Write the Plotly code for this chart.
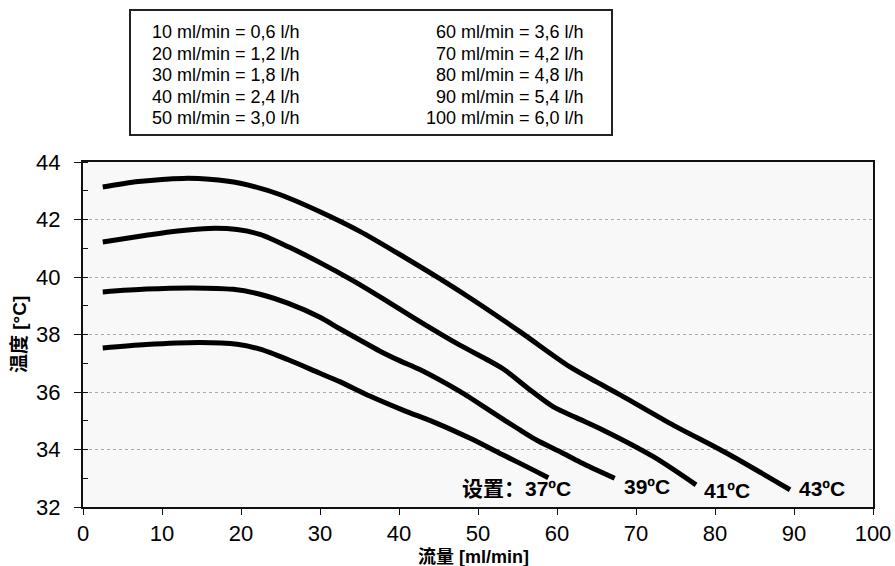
import plotly.graph_objects as go

# ---- data ----
flow_37 = [2.5, 8, 14.8, 19.5, 22.4, 26.0, 30.0, 32.5, 36.3, 40.5, 44.8, 49.0, 53.2, 57.4, 58.9]
temp_37 = [37.53, 37.65, 37.72, 37.66, 37.49, 37.12, 36.65, 36.36, 35.86, 35.37, 34.91, 34.39, 33.81,
           33.23, 33.02]

flow_39 = [2.5, 8, 13.9, 19.0, 22.4, 26.0, 30.0, 32.5, 35.1, 37.6, 40.0, 42.7, 47.7, 49.0, 53.2, 55.3,
           57.4, 60.4, 63.0, 67.3]
temp_39 = [39.48, 39.58, 39.62, 39.57, 39.40, 39.08, 38.60, 38.20, 37.80, 37.42, 37.10, 36.77, 36.02,
           35.80, 35.05, 34.68, 34.33, 33.92, 33.55, 33.0]

flow_41 = [2.5, 8, 12.0, 16.0, 19.5, 22.4, 26.0, 30.0, 34.0, 37.6, 42.7, 47.7, 51.0, 53.2, 56.6, 59.5,
           62.5, 65.8, 72.2, 77.6]
temp_41 = [41.22, 41.45, 41.6, 41.69, 41.65, 41.48, 41.05, 40.5, 39.9, 39.31, 38.44, 37.63, 37.15, 36.80,
           36.07, 35.49, 35.10, 34.68, 33.75, 32.77]

flow_43 = [2.5, 7.0, 12.7, 16.0, 19.9, 24.9, 30.0, 35.1, 40.0, 45.0, 49.0, 55.3, 61.6, 65.0, 68.0, 74.3,
           81.9, 89.5]
temp_43 = [43.13, 43.32, 43.43, 43.40, 43.26, 42.87, 42.27, 41.58, 40.80, 39.97, 39.27, 38.10, 36.88,
           36.35, 35.90, 34.91, 33.81, 32.6]

series = [(flow_37, temp_37), (flow_39, temp_39), (flow_41, temp_41), (flow_43, temp_43)]

curve_labels = ["设置：37ºC", "39ºC", "41ºC", "43ºC"]
label_x = [62.0, 68.2, 78.4, 90.4]
label_y = [32.66, 32.70, 32.56, 32.66]
label_anchor = ["right", "left", "left", "left"]

legend_left = ["10 ml/min = 0,6 l/h", "20 ml/min = 1,2 l/h", "30 ml/min = 1,8 l/h",
               "40 ml/min = 2,4 l/h", "50 ml/min = 3,0 l/h"]
legend_right = ["60 ml/min = 3,6 l/h", "70 ml/min = 4,2 l/h", "80 ml/min = 4,8 l/h",
                "90 ml/min = 5,4 l/h", "100 ml/min = 6,0 l/h"]

x_ticks = [0, 10, 20, 30, 40, 50, 60, 70, 80, 90, 100]
y_ticks = [32, 34, 36, 38, 40, 42, 44]

x_title = "流量 [ml/min]"
y_title = "温度 [°C]"

# ---- layout helpers ----
W, H = 895, 566
L, R, T, B = 83, 873, 162, 507
FONT = "Liberation Sans, Arial, Noto Sans CJK SC, sans-serif"


def px(xp):
    return (xp - L) / (R - L)


def py(yp):
    return (B - yp) / (B - T)


fig = go.Figure()
for fx, ty in series:
    fig.add_trace(go.Scatter(x=fx, y=ty, mode="lines",
                             line=dict(color="black", width=5, shape="spline", smoothing=0.8),
                             showlegend=False, hoverinfo="skip"))

annotations = []
for txt, xv, yv, anc in zip(curve_labels, label_x, label_y, label_anchor):
    annotations.append(dict(x=xv, y=yv, xref="x", yref="y", text="<b>%s</b>" % txt,
                            showarrow=False, xanchor=anc, yanchor="middle",
                            font=dict(family=FONT, size=21, color="black")))

line_ys = [32, 53.6, 75.2, 96.8, 118.4]
for txt, yp in zip(legend_left, line_ys):
    annotations.append(dict(x=px(150), y=py(yp), xref="paper", yref="paper", text=txt,
                            showarrow=False, xanchor="left", yanchor="middle",
                            font=dict(family=FONT, size=18, color="black")))
for txt, yp in zip(legend_right, line_ys):
    annotations.append(dict(x=px(586), y=py(yp), xref="paper", yref="paper", text=txt,
                            showarrow=False, xanchor="right", yanchor="middle",
                            font=dict(family=FONT, size=18, color="black")))

annotations.append(dict(x=px(473), y=py(557), xref="paper", yref="paper",
                        text="<b>%s</b>" % x_title, showarrow=False,
                        xanchor="center", yanchor="middle",
                        font=dict(family=FONT, size=18, color="black")))
annotations.append(dict(x=px(19), y=py(335), xref="paper", yref="paper",
                        text="<b>%s</b>" % y_title, showarrow=False, textangle=-90,
                        xanchor="center", yanchor="middle",
                        font=dict(family=FONT, size=19, color="black")))

shapes = [dict(type="rect", xref="paper", yref="paper",
               x0=px(130), x1=px(612), y0=py(135), y1=py(10),
               line=dict(color="#222", width=2), fillcolor="rgba(0,0,0,0)")]

fig.update_layout(
    width=W, height=H,
    margin=dict(l=L, r=W - R, t=T, b=H - B, pad=0, autoexpand=False),
    paper_bgcolor="white", plot_bgcolor="#f8f8f8",
    font=dict(family=FONT, size=22, color="black"),
    annotations=annotations, shapes=shapes,
    showlegend=False,
)
fig.update_xaxes(range=[0, 100], tickvals=x_ticks, showgrid=False, zeroline=False,
                 automargin=False,
                 showline=True, mirror=True, linecolor="#111", linewidth=2,
                 ticks="outside", ticklen=6, tickwidth=1, tickcolor="#111",
                 tickfont=dict(family=FONT, size=22, color="black"))
fig.update_yaxes(range=[32, 44], tickvals=y_ticks, showgrid=True, gridcolor="#aaaaaa",
                 griddash="dot", gridwidth=1, zeroline=False, automargin=False,
                 showline=True, mirror=True, linecolor="#111", linewidth=2,
                 ticks="outside", ticklen=7, tickwidth=1, tickcolor="#111",
                 ticklabelstandoff=9,
                 tickfont=dict(family=FONT, size=22, color="black"),
                 minor=dict(dtick=1, ticks="inside", ticklen=5, tickwidth=1, tickcolor="#111",
                            showgrid=False))

fig.write_html("out.html", config={"displayModeBar": False},
               post_script="document.body.style.margin='0px';document.body.style.overflow='hidden';")
